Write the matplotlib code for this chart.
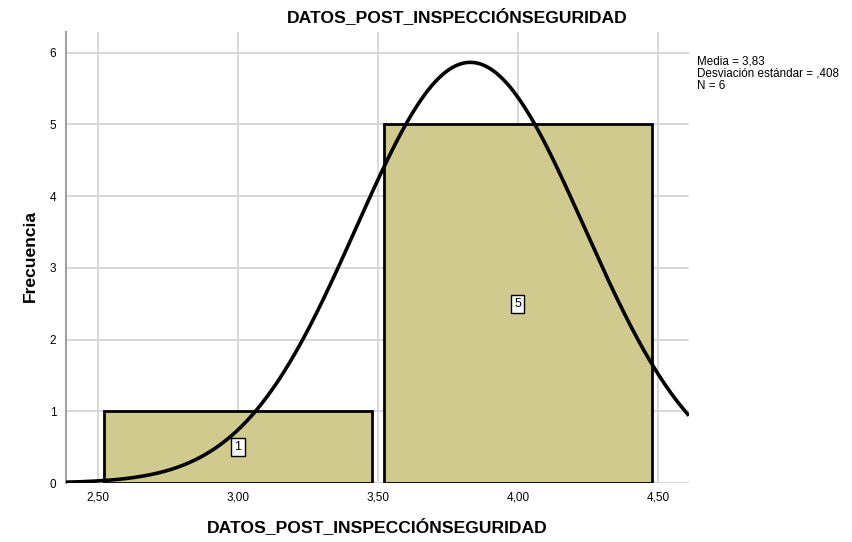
import numpy as np
import matplotlib
matplotlib.use("Agg")
import matplotlib.pyplot as plt

title = "DATOS_POST_INSPECCIÓNSEGURIDAD"
xlabel = "DATOS_POST_INSPECCIÓNSEGURIDAD"
ylabel = "Frecuencia"
bin_edges = [2.5, 3.5, 4.5]
counts = [1, 5]
mean = 3.83
sd = 0.408
n = 6
xticks = [2.5, 3.0, 3.5, 4.0, 4.5]
xtick_labels = ["2,50", "3,00", "3,50", "4,00", "4,50"]
yticks = [0, 1, 2, 3, 4, 5, 6]
stats_lines = ["Media = 3,83", "Desviación estándar = ,408", "N = 6"]

plt.rcParams['font.family'] = ['Liberation Sans', 'DejaVu Sans']

fig = plt.figure(figsize=(8.52, 5.42), dpi=100)
ax = fig.add_axes([66/852, 1-483/542, (689-66)/852, (483-32)/542])

xmin, xmax = 2.386, 4.611
ax.set_xlim(xmin, xmax)
ax.set_ylim(0, 6.29)

# grid
for xt in xticks:
    ax.axvline(xt, color='#d6d6d6', lw=1.3, zorder=0)
for yt in yticks:
    ax.axhline(yt, color='#d6d6d6', lw=1.3, zorder=0)

gap = 0.02
for i, c in enumerate(counts):
    l, r = bin_edges[i], bin_edges[i+1]
    ax.bar(l + gap, c, width=(r - l) - 2*gap, align='edge',
           color='#d0ca8f', edgecolor='black', linewidth=2, zorder=2)
    ax.text((l + r)/2, c/2, str(c), ha='center', va='center', fontsize=9,
            zorder=5, bbox=dict(boxstyle='square,pad=0.25', fc='white', ec='black', lw=1.0))

xs = np.linspace(xmin, xmax, 400)
binw = bin_edges[1] - bin_edges[0]
ys = n * binw / (sd*np.sqrt(2*np.pi)) * np.exp(-0.5*((xs-mean)/sd)**2)
ax.plot(xs, ys, color='black', lw=2.6, zorder=4, solid_capstyle='butt')

ax.set_xticks(xticks)
ax.set_xticklabels(xtick_labels, fontsize=8.5)
ax.set_yticks(yticks)
ax.set_yticklabels([str(y) for y in yticks], fontsize=8.5)
ax.tick_params(axis='x', length=0, pad=6)
ax.tick_params(axis='y', length=0, pad=7)

for s in ['top', 'right', 'bottom']:
    ax.spines[s].set_visible(False)
ax.spines['left'].set_color('#a0a0a0')
ax.spines['left'].set_linewidth(1.5)

fig.text(457/852, 1-17/542, title, ha='center', va='center', fontsize=12.6, fontweight='bold')
fig.text(377.5/852, 1-527/542, xlabel, ha='center', va='center', fontsize=12.6, fontweight='bold')
fig.text(30/852, 1-256/542, ylabel, ha='center', va='center', fontsize=12.6, fontweight='bold', rotation=90)

for i, line in enumerate(stats_lines):
    fig.text(697/852, 1-(62 + 12*i)/542, line, ha='left', va='center', fontsize=8.4)

fig.savefig("out.png", dpi=100)
